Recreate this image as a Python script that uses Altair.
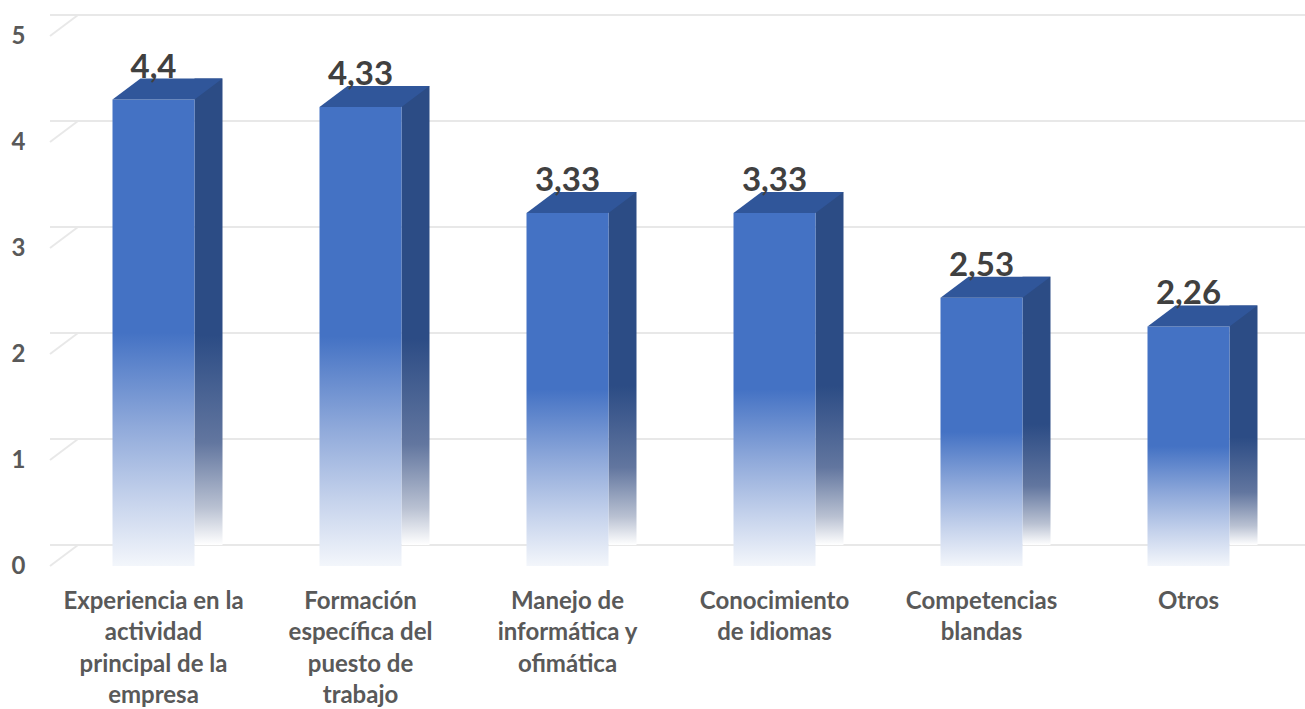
import altair as alt
import pandas as pd

# ---- data ----
categories = [
    "Experiencia en la\nactividad\nprincipal de la\nempresa",
    "Formación\nespecífica del\npuesto de\ntrabajo",
    "Manejo de\ninformática y\nofimática",
    "Conocimiento\nde idiomas",
    "Competencias\nblandas",
    "Otros",
]
values = [4.4, 4.33, 3.33, 3.33, 2.53, 2.26]
value_labels = ["4,4", "4,33", "3,33", "3,33", "2,53", "2,26"]
y_ticks = [0, 1, 2, 3, 4, 5]

df = pd.DataFrame({"categoria": categories, "valor": values, "etiqueta": value_labels})
ticks_df = pd.DataFrame({"tick": y_ticks})

# ---- style constants (3-D look) ----
BAR_W = 82      # front face width (px)
DX = 28         # depth offset to the right (px)
DY = 21         # depth offset upwards (px)
FONT = "Lato"

front_grad = alt.Gradient(
    gradient="linear", x1=0, y1=0, x2=0, y2=1,
    stops=[
        alt.GradientStop(color="#4472C4", offset=0),
        alt.GradientStop(color="#4472C4", offset=0.5),
        alt.GradientStop(color="#8fa9da", offset=0.7),
        alt.GradientStop(color="#c6d3ec", offset=0.86),
        alt.GradientStop(color="#f3f6fb", offset=1),
    ],
)
side_grad = alt.Gradient(
    gradient="linear", x1=0, y1=0, x2=0, y2=1,
    stops=[
        alt.GradientStop(color="#2C4C85", offset=0),
        alt.GradientStop(color="#2C4C85", offset=0.55),
        alt.GradientStop(color="#62769f", offset=0.78),
        alt.GradientStop(color="#b9c1d2", offset=0.92),
        alt.GradientStop(color="#ffffff", offset=1),
    ],
)

# top face parallelogram as custom symbol (scale = sqrt(size)/2 = 70 px)
S = 70.0
top_path = "M {a:.4f} 0 L {b:.4f} 0 L {c:.4f} {d:.4f} L {e:.4f} {d:.4f} Z".format(
    a=-BAR_W / 2 / S, b=BAR_W / 2 / S, c=(BAR_W / 2 + DX) / S, d=-DY / S, e=(-BAR_W / 2 + DX) / S
)

x_enc = alt.X(
    "categoria:N", sort=None,
    scale=alt.Scale(paddingInner=0, paddingOuter=0),
    axis=alt.Axis(
        title=None, labelAngle=0, domain=False, ticks=False, labelPadding=23,
        labelExpr="split(datum.label, '\\n')", labelLineHeight=31.5,
        labelBaseline="top", labelLimit=0, labelFontSize=24,
    ),
)
y_scale = alt.Scale(domain=[0, 5], nice=False)
y_axis = alt.Axis(title=None, values=y_ticks, grid=False, domain=False, ticks=False,
                  labelPadding=25, labelFontSize=24)

grid = alt.Chart(ticks_df).mark_rule(
    color="#e8e8e8", strokeWidth=2, xOffset=DX, x2Offset=DX, yOffset=-DY
).encode(y=alt.Y("tick:Q", scale=y_scale, axis=y_axis))

diag = alt.Chart(ticks_df).mark_rule(
    color="#e8e8e8", strokeWidth=2, y2Offset=-DY
).encode(
    y=alt.Y("tick:Q", scale=y_scale, axis=y_axis),
    y2="tick:Q",
    x=alt.value(0), x2=alt.value(DX),
)

base = alt.Chart(df).encode(x=x_enc, y=alt.Y("valor:Q", scale=y_scale, axis=y_axis))

side = base.mark_bar(
    width=DX, xOffset=BAR_W / 2 + DX / 2, yOffset=-DY, y2Offset=-DY, fill=side_grad
)
front = base.mark_bar(width=BAR_W, fill=front_grad)
top = base.mark_point(
    shape=top_path, size=(2 * S) ** 2, filled=True, fill="#30569A", opacity=1, strokeWidth=0
)
labels = base.mark_text(
    dy=-DY - 1, baseline="alphabetic", fontSize=33, fontWeight="bold", font=FONT, color="#404040"
).encode(text="etiqueta:N")

chart = alt.layer(grid, diag, side, front, top, labels).properties(
    width=1242, height=530,
    padding={"left": 50, "top": 36, "right": 13, "bottom": 143},
    autosize=alt.AutoSizeParams(type="none"),
    background="white",
).configure_view(stroke=None).configure_axis(
    labelFont=FONT, labelFontWeight="bold", labelColor="#595959"
)

chart.save("out.html", embed_options={"renderer": "svg", "actions": False})
